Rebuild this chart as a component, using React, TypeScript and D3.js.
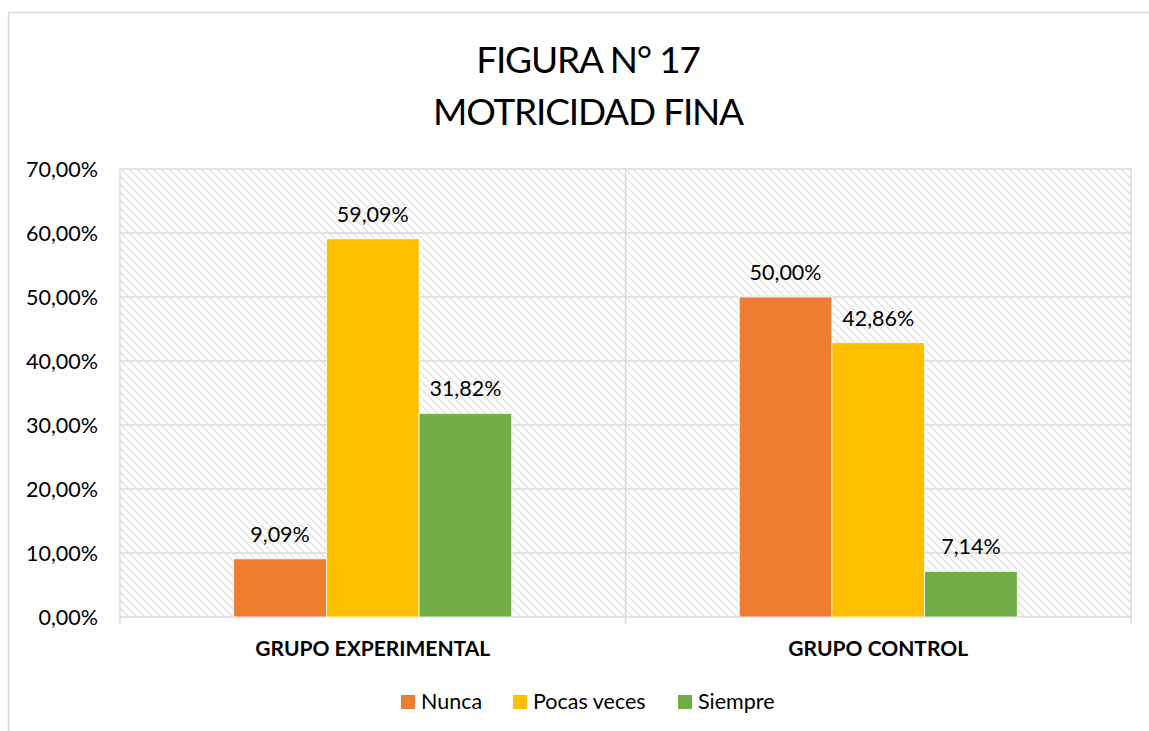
import React from 'react';
import * as d3 from 'd3';

const categories = ['GRUPO EXPERIMENTAL', 'GRUPO CONTROL'];
const series = ['Nunca', 'Pocas veces', 'Siempre'];
const colors = ['#ED7D31', '#FFC000', '#70AD47'];
// values per series, one entry per category (percent)
const nunca = [9.09, 50.0];
const pocasVeces = [59.09, 42.86];
const siempre = [31.82, 7.14];
const yTicks = [0, 10, 20, 30, 40, 50, 60, 70];
const titleLines = ['FIGURA N° 17', 'MOTRICIDAD FINA'];

const W = 1149;
const H = 731;
const plot = { left: 120, right: 1131, top: 169, bottom: 617 };
const font = 'Lato, "Open Sans", sans-serif';
const grid = '#d9d9d9';

const fmt = (v: number) => v.toFixed(2).replace('.', ',') + '%';

const App = () => {
  const values = [nunca, pocasVeces, siempre];

  const y = d3.scaleLinear().domain([0, 70]).range([plot.bottom, plot.top]);
  const x0 = d3.scaleBand<string>().domain(categories).range([plot.left, plot.right]);
  const x1 = d3.scaleBand<string>()
    .domain(series)
    .range([0, x0.bandwidth()])
    .paddingInner(0)
    .paddingOuter(1.227);

  const bounds = [plot.left, ...categories.map(c => (x0(c) as number) + x0.bandwidth())];

  return (
    <div style={{ position: 'absolute', left: 0, top: 0 }}>
      <svg width={W} height={H} style={{ display: 'block', background: '#fff' }}>
        <defs>
          <pattern id="hatch" width="8" height="8" patternUnits="userSpaceOnUse">
            <path d="M-2,-2 L10,10 M-2,6 L2,10 M6,-2 L10,2" stroke="#e0e0e0" strokeWidth="1.3" />
          </pattern>
        </defs>

        {/* outer chart border */}
        <rect x={8.5} y={12.5} width={W + 20} height={H + 20} fill="none" stroke={grid} strokeWidth={1.5} />

        {/* title */}
        {titleLines.map((t, i) => (
          <text key={t} x={588} y={73 + i * 52} textAnchor="middle" fontFamily={font}
            fontSize={37} fill="#000" letterSpacing={-1.2}>
            {t}
          </text>
        ))}

        {/* hatched plot background */}
        <rect x={plot.left} y={plot.top} width={plot.right - plot.left} height={plot.bottom - plot.top}
          fill="url(#hatch)" />

        {/* horizontal gridlines */}
        {yTicks.map(t => (
          <line key={t} x1={plot.left} x2={plot.right} y1={y(t)} y2={y(t)} stroke={grid} strokeWidth={1.5} />
        ))}

        {/* vertical category boundaries with ticks */}
        {bounds.map((bx, i) => (
          <line key={i} x1={bx} x2={bx} y1={plot.top} y2={plot.bottom + 7} stroke={grid} strokeWidth={1.5} />
        ))}

        {/* y tick labels */}
        {yTicks.map(t => (
          <text key={t} x={98} y={y(t)} dy="0.35em" textAnchor="end" fontFamily={font}
            fontSize={21.5} fill="#000">
            {fmt(t)}
          </text>
        ))}

        {/* bars + labels */}
        {categories.map((c, ci) => (
          <g key={c} transform={`translate(${x0(c)},0)`}>
            {series.map((s, si) => {
              const v = values[si][ci];
              const bx = x1(s) as number;
              return (
                <g key={s}>
                  <rect x={bx} y={y(v)} width={x1.bandwidth()} height={plot.bottom - y(v)}
                    fill={colors[si]} stroke="#fff" strokeWidth={0.8} />
                  <text x={bx + x1.bandwidth() / 2} y={y(v) - 17} textAnchor="middle"
                    fontFamily={font} fontSize={21.5} fill="#000">
                    {fmt(v)}
                  </text>
                </g>
              );
            })}
            <text x={x0.bandwidth() / 2} y={656} textAnchor="middle" fontFamily={font}
              fontSize={21} fontWeight="bold" fill="#000">
              {c}
            </text>
          </g>
        ))}

        {/* legend */}
        {series.map((s, i) => {
          const lx = [401, 513, 678][i];
          return (
            <g key={s}>
              <rect x={lx} y={695} width={14} height={14} fill={colors[i]} />
              <text x={lx + 20} y={709} fontFamily={font} fontSize={21.5} fill="#000">{s}</text>
            </g>
          );
        })}
      </svg>
    </div>
  );
};

export default App;
